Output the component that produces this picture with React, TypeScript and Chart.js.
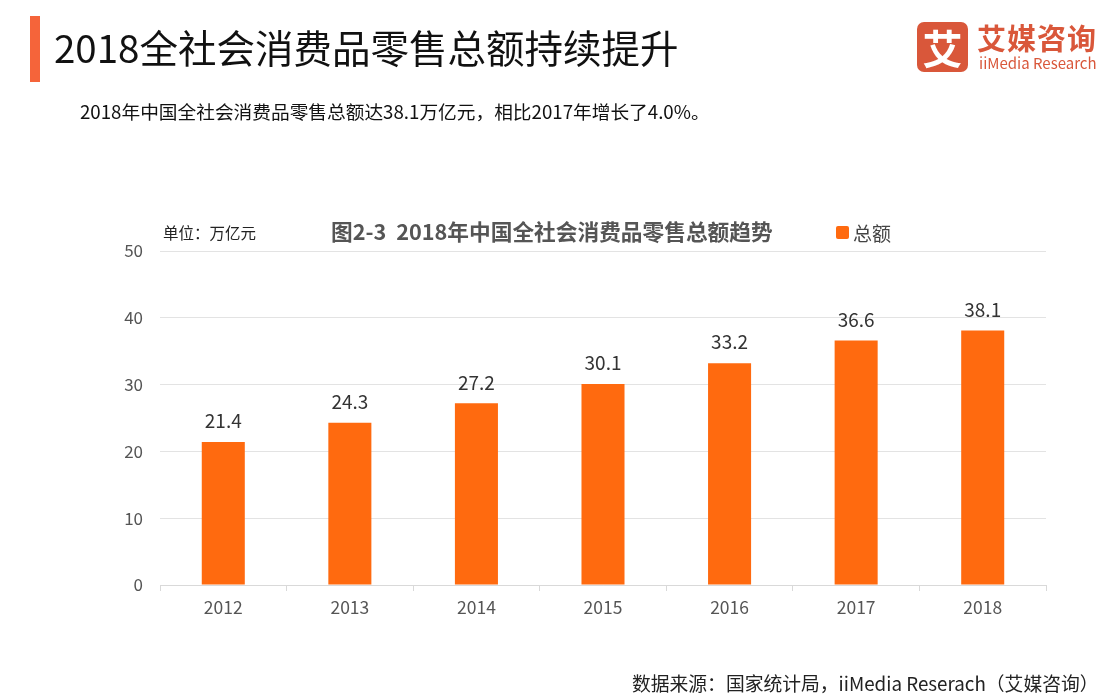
import React, { useEffect, useRef } from "react";
import { Chart, registerables } from "chart.js";

Chart.register(...registerables);

const categories = ["2012", "2013", "2014", "2015", "2016", "2017", "2018"];
const totals = [21.4, 24.3, 27.2, 30.1, 33.2, 36.6, 38.1];
const yTicks = [0, 10, 20, 30, 40, 50];
const seriesName = "总额";

const FONT = "'Noto Sans CJK SC', 'Noto Sans', sans-serif";
const BAR = "#FF6A0F";

const labelPlugin = {
  id: "valueLabels",
  afterDatasetsDraw(chart: any) {
    const ctx = chart.ctx;
    const meta = chart.getDatasetMeta(0);
    ctx.save();
    ctx.font = `19px ${FONT}`;
    ctx.fillStyle = "#333";
    ctx.textAlign = "center";
    ctx.textBaseline = "middle";
    meta.data.forEach((el: any, i: number) => {
      ctx.fillText(totals[i].toFixed(1), el.x, el.y - 21);
    });
    ctx.restore();
  },
};

export default function App() {
  const ref = useRef<HTMLCanvasElement>(null);
  useEffect(() => {
    if (!ref.current) return;
    const chart = new Chart(ref.current, {
      type: "bar",
      data: {
        labels: categories,
        datasets: [
          {
            label: seriesName,
            data: totals,
            backgroundColor: BAR,
            borderWidth: 0,
            barPercentage: 0.68,
            categoryPercentage: 0.5,
          },
        ],
      },
      options: {
        responsive: false,
        animation: false,
        layout: { padding: { left: 0, top: 251, right: 62, bottom: 0 } },
        plugins: {
          legend: { display: false },
          title: { display: false },
          tooltip: { enabled: false },
        },
        scales: {
          x: {
            offset: true,
            grid: {
              offset: true,
              drawOnChartArea: false,
              drawTicks: true,
              tickLength: 6,
              color: "#d9d9d9",
            },
            border: { display: true, color: "#d9d9d9" },
            ticks: {
              color: "#555",
              font: { family: FONT, size: 17.5 },
              padding: 6,
            },
            afterFit(scale: any) {
              scale.height = 111;
            },
          },
          y: {
            min: 0,
            max: 50,
            afterBuildTicks(scale: any) {
              scale.ticks = yTicks.map((v) => ({ value: v }));
            },
            grid: { color: "#e3e3e3", drawTicks: false },
            border: { display: false },
            ticks: {
              color: "#555",
              font: { family: FONT, size: 17 },
              padding: 17,
            },
            afterFit(scale: any) {
              scale.width = 160;
            },
          },
        },
      },
      plugins: [labelPlugin],
    });
    return () => chart.destroy();
  }, []);

  const abs = (s: React.CSSProperties): React.CSSProperties => ({
    position: "absolute",
    whiteSpace: "nowrap",
    fontFamily: FONT,
    lineHeight: 1,
    ...s,
  });

  return (
    <div
      style={{
        position: "fixed",
        left: 0,
        top: 0,
        width: 1108,
        height: 696,
        background: "#fff",
        overflow: "hidden",
      }}
    >
      <canvas ref={ref} width={1108} height={696} style={{ position: "absolute", left: 0, top: 0 }} />
      <div style={abs({ left: 30, top: 16, width: 10, height: 66, background: "#F5643A" })} />
      <div style={abs({ left: 54, top: 27, fontSize: 38.5, color: "#111" })}>
        2018全社会消费品零售总额持续提升
      </div>
      <div style={abs({ left: 80, top: 102, fontSize: 18.7, color: "#111" })}>
        2018年中国全社会消费品零售总额达38.1万亿元，相比2017年增长了4.0%。
      </div>
      {/* logo */}
      <div
        style={abs({
          left: 917,
          top: 22,
          width: 51,
          height: 50,
          borderRadius: 7,
          background: "#D9573A",
          color: "#fff",
          fontSize: 40,
          fontWeight: 700,
          textAlign: "center",
          lineHeight: "50px",
        })}
      >
        艾
      </div>
      <div style={abs({ left: 977, top: 23, fontSize: 29, fontWeight: 700, color: "#D9573A", letterSpacing: 1 })}>
        艾媒咨询
      </div>
      <div style={abs({ left: 979, top: 55, fontSize: 15, color: "#D9573A" })}>iiMedia Research</div>
      {/* chart title area */}
      <div style={abs({ left: 163, top: 225, fontSize: 15.5, color: "#222" })}>单位：万亿元</div>
      <div style={abs({ left: 331, top: 220, fontSize: 21.7, fontWeight: 700, color: "#555" })}>
        图2-3&nbsp;&nbsp;2018年中国全社会消费品零售总额趋势
      </div>
      <div style={abs({ left: 836, top: 226, width: 13, height: 13, background: BAR, borderRadius: 2 })} />
      <div style={abs({ left: 853, top: 223, fontSize: 19, color: "#444" })}>{seriesName}</div>
      <div style={abs({ left: 632, top: 674, fontSize: 18.8, color: "#222" })}>
        数据来源：国家统计局，iiMedia Reserach（艾媒咨询）
      </div>
    </div>
  );
}
